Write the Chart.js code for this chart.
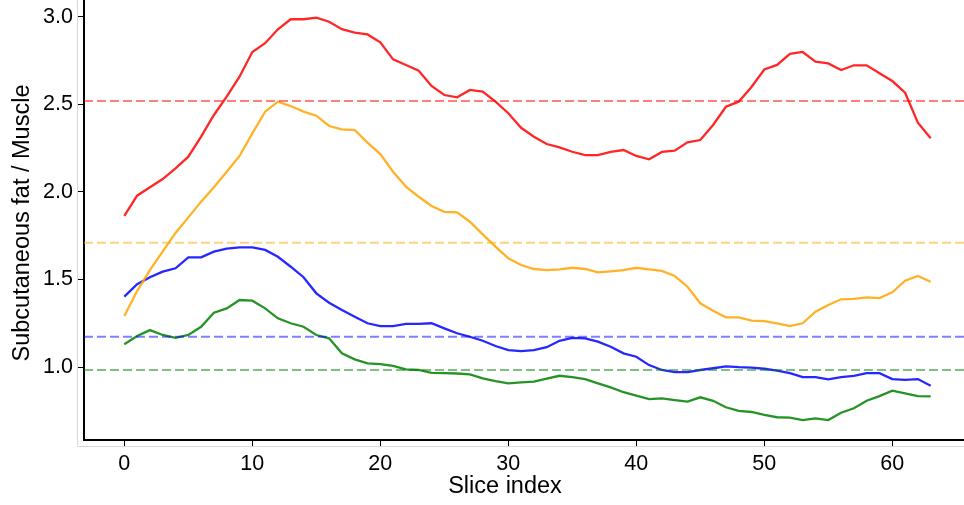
<!DOCTYPE html>
<html>
<head>
<meta charset="utf-8">
<script src="https://cdn.jsdelivr.net/npm/chart.js@4.4.1/dist/chart.umd.min.js"></script>
<style>
  html, body { margin: 0; padding: 0; background: #fff; overflow: hidden; }
  #wrap { width: 964px; height: 505px; overflow: hidden; }
</style>
</head>
<body>
<div id="wrap"><canvas id="chart" width="971" height="505"></canvas></div>
<script>
const red = [1.863, 1.979, 2.027, 2.074, 2.135, 2.202, 2.316, 2.44, 2.545, 2.659,
  2.80, 2.85, 2.93, 2.987, 2.987, 2.996, 2.973, 2.93, 2.91, 2.90,
  2.855, 2.758, 2.726, 2.693, 2.606, 2.554, 2.541, 2.583, 2.573, 2.516,
  2.45, 2.367, 2.316, 2.274, 2.255, 2.23, 2.211, 2.211, 2.229, 2.24,
  2.206, 2.187, 2.229, 2.236, 2.284, 2.297, 2.383, 2.487, 2.516, 2.60,
  2.70, 2.726, 2.789, 2.80, 2.745, 2.735, 2.697, 2.724, 2.724, 2.678,
  2.634, 2.567, 2.396, 2.307];
const orange = [1.291, 1.434, 1.554, 1.661, 1.766, 1.855, 1.945, 2.027, 2.116, 2.206,
  2.335, 2.459, 2.516, 2.491, 2.459, 2.436, 2.377, 2.358, 2.354, 2.282,
  2.217, 2.116, 2.03, 1.973, 1.92, 1.887, 1.884, 1.83, 1.758, 1.688,
  1.621, 1.583, 1.56, 1.554, 1.558, 1.567, 1.56, 1.541, 1.547, 1.554,
  1.567, 1.558, 1.549, 1.52, 1.459, 1.364, 1.322, 1.284, 1.284, 1.265,
  1.262, 1.25, 1.234, 1.25, 1.316, 1.354, 1.387, 1.389, 1.398, 1.394,
  1.427, 1.493, 1.52, 1.487];
const blue = [1.402, 1.473, 1.513, 1.545, 1.564, 1.627, 1.627, 1.659, 1.676, 1.684,
  1.684, 1.669, 1.63, 1.573, 1.513, 1.421, 1.367, 1.326, 1.287, 1.25,
  1.234, 1.234, 1.246, 1.246, 1.25, 1.221, 1.193, 1.173, 1.15, 1.12,
  1.097, 1.091, 1.097, 1.113, 1.15, 1.166, 1.164, 1.145, 1.116, 1.078,
  1.059, 1.011, 0.983, 0.971, 0.971, 0.983, 0.993, 1.004, 0.999, 0.997,
  0.99, 0.98, 0.965, 0.942, 0.942, 0.93, 0.942, 0.949, 0.965, 0.965,
  0.931, 0.926, 0.931, 0.893];
const green = [1.13, 1.177, 1.211, 1.183, 1.167, 1.183, 1.23, 1.31, 1.335, 1.383,
  1.379, 1.335, 1.278, 1.25, 1.23, 1.183, 1.164, 1.078, 1.044, 1.021,
  1.017, 1.007, 0.987, 0.983, 0.967, 0.965, 0.963, 0.958, 0.935, 0.92,
  0.907, 0.912, 0.916, 0.933, 0.95, 0.942, 0.931, 0.907, 0.884, 0.856,
  0.836, 0.817, 0.821, 0.811, 0.802, 0.827, 0.807, 0.77, 0.75, 0.743,
  0.726, 0.713, 0.711, 0.697, 0.707, 0.697, 0.739, 0.764, 0.807, 0.834,
  0.865, 0.85, 0.834, 0.832];
const means = [2.52, 1.71, 1.173, 0.983];
const colors = ["rgba(255,0,0,0.85)", "rgba(255,165,0,0.85)", "rgba(0,0,255,0.85)", "rgba(0,128,0,0.85)"];
const dashColors = ["rgba(255,0,0,0.5)", "rgba(255,165,0,0.5)", "rgba(0,0,255,0.5)", "rgba(0,128,0,0.5)"];
const xTicks = [0, 10, 20, 30, 40, 50, 60];
const yTicks = [1.0, 1.5, 2.0, 2.5, 3.0];
const xMin = -3.15, xMax = 66.15;
const yMin = 0.583, yMax = 3.097;

const font = "'Liberation Sans', Arial, Helvetica, sans-serif";
const toPoints = (arr) => arr.map((v, i) => ({ x: i, y: v }));

const series = [red, orange, blue, green];
const datasets = [];
series.forEach((s, k) => {
  datasets.push({
    data: [{ x: xMin, y: means[k] }, { x: xMax, y: means[k] }],
    borderColor: dashColors[k],
    borderWidth: 1.8,
    borderDash: [9, 4],
  });
});
series.forEach((s, k) => {
  datasets.push({
    data: toPoints(s),
    borderColor: colors[k],
    borderWidth: 2.3,
  });
});

// light outer frame + axis titles
const decor = {
  id: "decor",
  beforeDraw(chart) {
    const ctx = chart.ctx;
    ctx.save();
    ctx.strokeStyle = "#d9d9d9";
    ctx.lineWidth = 1;
    ctx.beginPath();
    ctx.moveTo(77.5, 0);
    ctx.lineTo(77.5, 446.5);
    ctx.lineTo(chart.width, 446.5);
    ctx.stroke();
    ctx.restore();
  },
  afterDraw(chart) {
    const ctx = chart.ctx;
    ctx.save();
    ctx.fillStyle = "#000";
    ctx.font = "23.5px " + font;
    ctx.textAlign = "center";
    ctx.textBaseline = "alphabetic";
    ctx.fillText("Slice index", 505, 493);
    ctx.translate(29, 223);
    ctx.rotate(-Math.PI / 2);
    ctx.fillText("Subcutaneous fat / Muscle", 0, 0);
    ctx.restore();
  },
};

new Chart(document.getElementById("chart"), {
  type: "line",
  data: { datasets },
  options: {
    responsive: false,
    animation: false,
    devicePixelRatio: 1,
    layout: { padding: 0 },
    elements: { point: { radius: 0 }, line: { tension: 0 } },
    plugins: { legend: { display: false }, tooltip: { enabled: false } },
    scales: {
      x: {
        type: "linear",
        min: xMin,
        max: xMax,
        afterBuildTicks: (s) => { s.ticks = xTicks.map((v) => ({ value: v })); },
        afterFit: (s) => { s.height = 65; s.paddingLeft = 0; s.paddingRight = 0; },
        ticks: { color: "#000", font: { size: 21.5, family: font }, padding: 5, maxRotation: 0, autoSkip: false },
        grid: { drawOnChartArea: false, drawTicks: true, tickLength: 6, tickColor: "#000" },
        border: { color: "#000", width: 2 },
      },
      y: {
        min: yMin,
        max: yMax,
        afterBuildTicks: (s) => { s.ticks = yTicks.map((v) => ({ value: v })); },
        afterFit: (s) => { s.width = 84; s.paddingTop = 0; s.paddingBottom = 0; },
        ticks: { color: "#000", font: { size: 21.5, family: font }, padding: 5, callback: (v) => v.toFixed(1) },
        grid: { drawOnChartArea: false, drawTicks: true, tickLength: 6, tickColor: "#000" },
        border: { color: "#000", width: 2 },
      },
    },
  },
  plugins: [decor],
});
</script>
</body>
</html>
